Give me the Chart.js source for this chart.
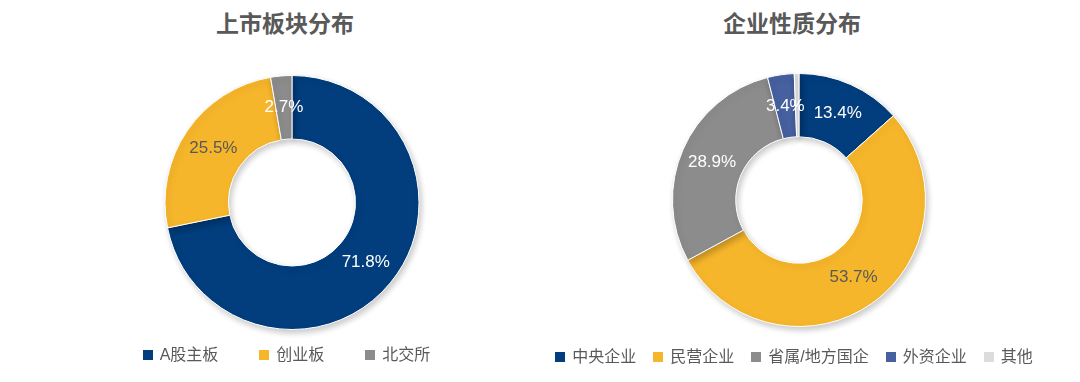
<!DOCTYPE html>
<html>
<head>
<meta charset="utf-8">
<script src="https://cdn.jsdelivr.net/npm/chart.js@4"></script>
<style>
  html, body { margin: 0; padding: 0; background: #ffffff; }
  #wrap { position: relative; width: 1080px; height: 382px; overflow: hidden;
          font-family: "Liberation Sans", "Noto Sans CJK SC", sans-serif; color: #595959; }
  .box { position: absolute; top: 0; width: 540px; height: 382px; }
  .title { position: absolute; top: 10px; font-size: 23px; font-weight: bold; text-align: center; line-height: 28px; }
  .legend { position: absolute; display: flex; justify-content: center; font-size: 16px; line-height: 20px; }
  .legend .item { display: flex; align-items: center; white-space: nowrap; }
  .legend .swatch { width: 10px; height: 10px; margin-right: 7px; }
</style>
</head>
<body>
<div id="wrap">
  <div class="title" style="left:0; width:570px">上市板块分布</div>
  <div class="title" style="left:540px; width:504px">企业性质分布</div>
  <div class="box" style="left:22px"><canvas id="boardChart"></canvas></div>
  <div class="box" style="left:529px"><canvas id="ownerChart"></canvas></div>
  <div class="legend" id="boardLegend" style="left:0; width:573px; top:345px"></div>
  <div class="legend" id="ownerLegend" style="left:540px; width:508px; top:347px"></div>
</div>
<script>
// 上市板块分布
const boardLabels = ['A股主板', '创业板', '北交所'];
const boardValues = [71.8, 25.5, 2.7];
const boardColors = ['#023e7d', '#f6b62b', '#8c8c8c'];

// 企业性质分布
const ownerLabels = ['中央企业', '民营企业', '省属/地方国企', '外资企业', '其他'];
const ownerValues = [13.4, 53.7, 28.9, 3.4, 0.6];
const ownerColors = ['#023e7d', '#f6b62b', '#8c8c8c', '#4660a0', '#dcdcdc'];

const FONT = '"Liberation Sans", "Noto Sans CJK SC", sans-serif';
const TEXT_GREY = '#595959';

// soft drop shadow under the ring, like the original
const ringShadow = {
    id: 'ringShadow',
    beforeDatasetsDraw(chart) {
        const ctx = chart.ctx;
        ctx.save();
        ctx.shadowColor = 'rgba(0, 0, 0, 0.22)';
        ctx.shadowBlur = 6;
        ctx.shadowOffsetX = 2;
        ctx.shadowOffsetY = 3;
    },
    afterDatasetsDraw(chart) {
        chart.ctx.restore();
    }
};

// draws the % value on each slice, at the middle of the ring
const sliceLabels = {
    id: 'sliceLabels',
    afterDatasetsDraw(chart, args, opts) {
        const ctx = chart.ctx;
        const meta = chart.getDatasetMeta(0);
        const values = chart.data.datasets[0].data;
        ctx.save();
        ctx.font = '17px ' + FONT;
        ctx.textAlign = 'center';
        ctx.textBaseline = 'middle';
        meta.data.forEach((arc, i) => {
            if (values[i] < 1) return; // tiny slice has no label
            const pos = arc.tooltipPosition();
            ctx.fillStyle = opts.darkText.includes(i) ? TEXT_GREY : '#ffffff';
            ctx.fillText(values[i].toFixed(1) + '%', pos.x, pos.y);
        });
        ctx.restore();
    }
};

// legend built from the chart's own labels and colours (the built-in one
// ties its vertical padding to the item gap, which shrinks the ring)
function buildLegend(chart, elId, gap) {
    const el = document.getElementById(elId);
    const colors = chart.data.datasets[0].backgroundColor;
    chart.data.labels.forEach((label, i) => {
        const item = document.createElement('div');
        item.className = 'item';
        if (i > 0) item.style.marginLeft = gap + 'px';
        const sw = document.createElement('span');
        sw.className = 'swatch';
        sw.style.background = colors[i];
        item.appendChild(sw);
        item.appendChild(document.createTextNode(label));
        el.appendChild(item);
    });
}

function makeDoughnut(id, labels, values, colors, pad) {
    return new Chart(document.getElementById(id), {
        type: 'doughnut',
        data: {
            labels: labels,
            datasets: [{
                data: values,
                backgroundColor: colors,
                borderColor: '#ffffff',
                borderWidth: 1,
                hoverOffset: 0
            }]
        },
        options: {
            responsive: true,
            maintainAspectRatio: false,
            animation: false,
            cutout: '50%',
            layout: { padding: pad },
            plugins: {
                legend: { display: false },
                tooltip: { enabled: false },
                sliceLabels: { darkText: [1] }
            }
        },
        plugins: [ringShadow, sliceLabels]
    });
}

const boardChart = makeDoughnut('boardChart', boardLabels, boardValues, boardColors, { top: 75, bottom: 52 });
const ownerChart = makeDoughnut('ownerChart', ownerLabels, ownerValues, ownerColors, { top: 73, bottom: 55 });
buildLegend(boardChart, 'boardLegend', 41);
buildLegend(ownerChart, 'ownerLegend', 17);
</script>
</body>
</html>
